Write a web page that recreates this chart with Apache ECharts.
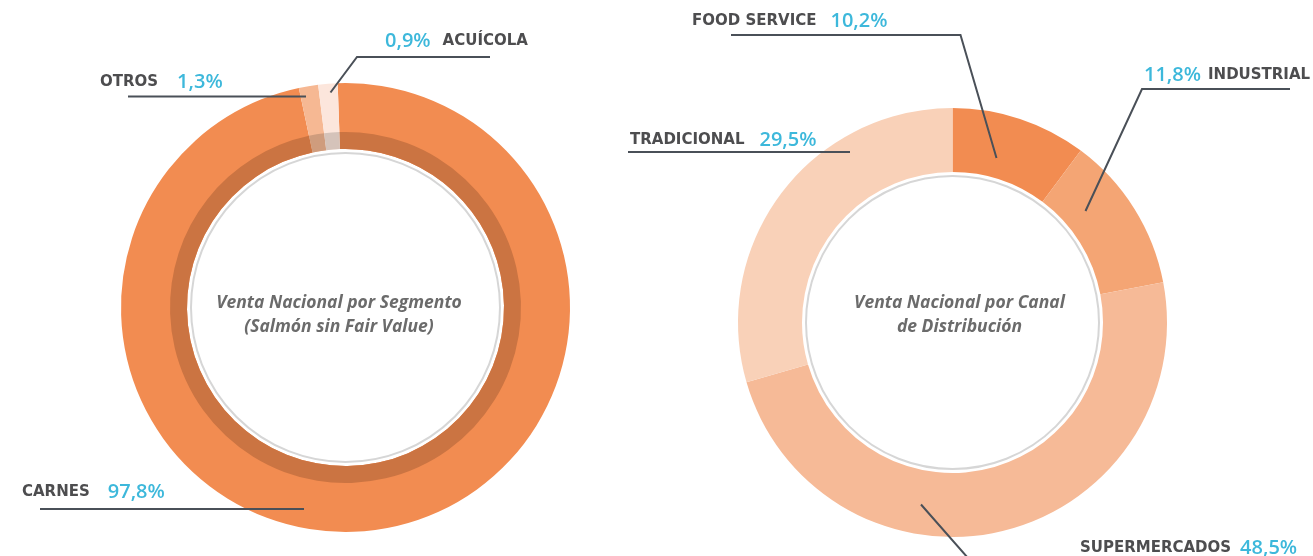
<!DOCTYPE html>
<html>
<head>
<meta charset="utf-8">
<script src="https://cdn.jsdelivr.net/npm/echarts@6/dist/echarts.min.js"></script>
<style>
html,body{margin:0;padding:0;background:#fff;}
#chart{width:1313px;height:556px;}
</style>
</head>
<body>
<div id="chart"></div>
<script>
// ---- data ----
const leftCategories = ['CARNES', 'OTROS', 'ACUÍCOLA'];
const leftValues = [97.8, 1.3, 0.9];
const rightCategories = ['FOOD SERVICE', 'INDUSTRIAL', 'SUPERMERCADOS', 'TRADICIONAL'];
const rightValues = [10.2, 11.8, 48.5, 29.5];
const leftTitle = 'Venta Nacional por Segmento\n(Salmón sin Fair Value)';
const rightTitle = 'Venta Nacional por Canal\nde Distribución';

// ---- styles / layout ----
const leftColors = ['#F28C51', '#F6B893', '#FCE6DC'];
const leftDarkColors = ['#CB7442', '#CF9C7D', '#D5C3BA'];
const rightColors = ['#F28C51', '#F4A574', '#F6BA97', '#F9D1B8'];
const LC = [345.5, 307.5];
const RC = [952.5, 322.5];

const leftLabels = [
  {order: 'nv', gap: 18, x: 22, y: 492, pts: [[304, 509], [304, 509], [40, 509]]},
  {order: 'nv', gap: 19, x: 100, y: 82, pts: [[306, 96.5], [306, 96.5], [128, 96.5]]},
  {order: 'vn', gap: 12, x: 385, y: 41, pts: [[330.5, 92.5], [357, 57], [490, 57]]}
];
const rightLabels = [
  {order: 'nv', gap: 14, x: 692, y: 21, pts: [[996.5, 158], [960.5, 35], [731, 35]]},
  {order: 'vn', gap: 7, x: 1144, y: 75.5, pts: [[1085.5, 211], [1142, 89], [1290, 89]]},
  {order: 'nv', gap: 9, x: 1080, y: 548, pts: [[921, 504.5], [975, 566], [1300, 566]]},
  {order: 'nv', gap: 15, x: 630, y: 140.5, pts: [[850, 152], [850, 152], [628, 152]]}
];

function fmtVal(v) { return v.toFixed(1).replace('.', ',') + '%'; }

function buildData(cats, vals, colors, labels) {
  return cats.map(function (c, i) {
    const L = labels ? labels[i] : null;
    const item = {name: c, value: vals[i], itemStyle: {color: colors ? colors[i] : 'rgba(0,0,0,0)'}};
    if (L) {
      const s = L.order === 'nv'
        ? '{n|' + c + '}{g|}{v|' + fmtVal(vals[i]) + '}'
        : '{v|' + fmtVal(vals[i]) + '}{g|}{n|' + c + '}';
      item.label = {
        formatter: s,
        rich: {
          n: {fontFamily: 'DejaVu Sans', fontWeight: 'bold', fontSize: 15, color: '#4D4D4F'},
          v: {fontFamily: 'Open Sans', fontWeight: 600, fontSize: 20, color: '#3DB8DB'},
          g: {width: L.gap}
        }
      };
    }
    return item;
  });
}

const labelLineStyle = {show: true, smooth: false, length: 10, length2: 10, lineStyle: {color: '#4A5058', width: 2}};

const chart = echarts.init(document.getElementById('chart'), null, {renderer: 'canvas'});
chart.setOption({
  animation: false,
  backgroundColor: '#ffffff',
  series: [
    {
      type: 'pie', name: 'segmento', center: LC, radius: [158.5, 224.5],
      startAngle: 92, minAngle: 5, clockwise: true,
      emphasis: {disabled: true}, silent: true, z: 2,
      data: buildData(leftCategories, leftValues, leftColors, null),
      label: {show: false}, labelLine: {show: false}
    },
    {
      type: 'pie', name: 'segmento-sombra', center: LC, radius: [158.5, 175.5],
      startAngle: 92, minAngle: 5, clockwise: true,
      emphasis: {disabled: true}, silent: true, z: 3,
      data: buildData(leftCategories, leftValues, leftDarkColors, null),
      label: {show: false}, labelLine: {show: false}
    },
    {
      type: 'pie', name: 'segmento-etiquetas', center: LC, radius: [158.5, 224.5],
      startAngle: 92, minAngle: 5, clockwise: true, avoidLabelOverlap: false,
      emphasis: {disabled: true}, silent: true, z: 10,
      data: buildData(leftCategories, leftValues, null, leftLabels),
      label: {show: true, position: 'outside'},
      labelLine: labelLineStyle,
      labelLayout: function (p) {
        const L = leftLabels[p.dataIndex];
        return {x: L.x, y: L.y, align: 'left', verticalAlign: 'middle', labelLinePoints: L.pts};
      }
    },
    {
      type: 'pie', name: 'canal', center: RC, radius: [150.5, 214.5],
      startAngle: 90, clockwise: true,
      emphasis: {disabled: true}, silent: true, z: 2,
      data: buildData(rightCategories, rightValues, rightColors, null),
      label: {show: false}, labelLine: {show: false}
    },
    {
      type: 'pie', name: 'canal-etiquetas', center: RC, radius: [150.5, 214.5],
      startAngle: 90, clockwise: true, avoidLabelOverlap: false,
      emphasis: {disabled: true}, silent: true, z: 10,
      data: buildData(rightCategories, rightValues, null, rightLabels),
      label: {show: true, position: 'outside'},
      labelLine: labelLineStyle,
      labelLayout: function (p) {
        const L = rightLabels[p.dataIndex];
        return {x: L.x, y: L.y, align: 'left', verticalAlign: 'middle', labelLinePoints: L.pts};
      }
    }
  ],
  graphic: [
    {type: 'circle', shape: {cx: LC[0], cy: LC[1], r: 154.5}, style: {fill: 'none', stroke: '#D6D6D6', lineWidth: 2}, silent: true},
    {type: 'circle', shape: {cx: RC[0], cy: RC[1], r: 146.5}, style: {fill: 'none', stroke: '#D6D6D6', lineWidth: 2}, silent: true},
    {type: 'text', x: 339, y: 315, silent: true, style: {
      text: leftTitle, textAlign: 'center', textVerticalAlign: 'middle',
      fontFamily: 'Open Sans', fontStyle: 'italic', fontWeight: 'bold', fontSize: 17.5, lineHeight: 24, fill: '#6B6B6B'}},
    {type: 'text', x: 959.5, y: 315, silent: true, style: {
      text: rightTitle, textAlign: 'center', textVerticalAlign: 'middle',
      fontFamily: 'Open Sans', fontStyle: 'italic', fontWeight: 'bold', fontSize: 17.5, lineHeight: 24, fill: '#6B6B6B'}}
  ]
});
</script>
</body>
</html>
